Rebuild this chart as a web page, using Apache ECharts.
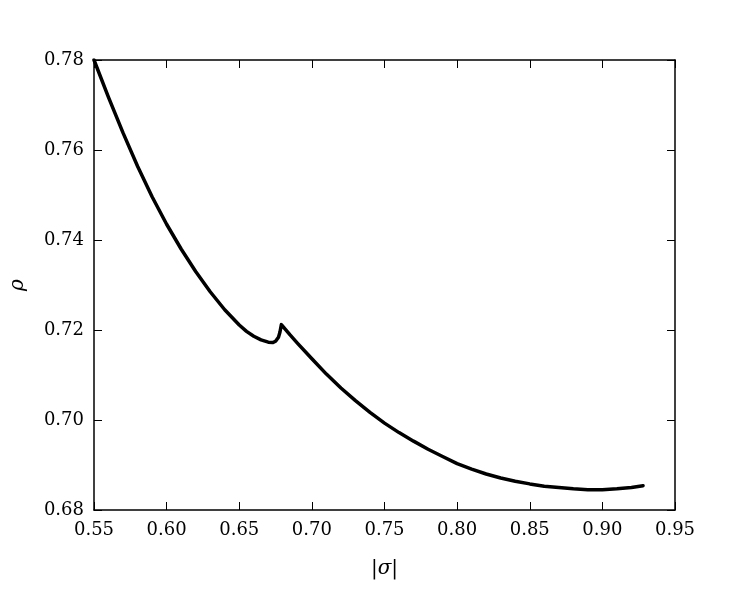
<!DOCTYPE html>
<html>
<head>
<meta charset="utf-8">
<script src="https://cdn.jsdelivr.net/npm/echarts@6/dist/echarts.min.js"></script>
<style>html,body{margin:0;padding:0;background:#fff}#c{width:750px;height:600px}</style>
</head>
<body>
<div id="c"></div>
<script>
const sigmaValues = [0.550,0.560,0.570,0.580,0.590,0.600,0.610,0.620,0.630,0.640,0.650,0.655,0.660,0.665,0.670,0.673,0.675,0.677,0.678,0.679,
  0.685,0.690,0.700,0.710,0.720,0.730,0.740,0.750,0.760,0.770,0.780,0.790,0.800,0.810,0.820,0.830,0.840,0.850,0.860,0.870,0.880,0.890,0.900,0.910,0.920,0.928];
const rhoValues = [0.7800,0.7717,0.7638,0.7564,0.7496,0.7435,0.7380,0.7330,0.7285,0.7245,0.7211,0.7197,0.7186,0.7178,0.7173,0.7172,0.7175,0.7184,0.7195,0.7212,
  0.7189,0.7171,0.7136,0.7102,0.7071,0.7043,0.7017,0.6993,0.6972,0.6953,0.6935,0.6919,0.6903,0.6891,0.6880,0.6871,0.6864,0.6858,0.6853,0.6850,0.6847,0.6845,0.6845,0.6847,0.6850,0.6854];
const xRange = [0.55, 0.95, 0.05];
const yRange = [0.68, 0.78, 0.02];
const xName = '|σ|';
const yName = 'ρ';

const font = 'DejaVu Serif';
const lineAxis = {show: true, lineStyle: {color: '#000', width: 1.5}};
const tick = {show: true, inside: true, length: 8, lineStyle: {color: '#000', width: 1}};
const chart = echarts.init(document.getElementById('c'), null, {renderer: 'canvas'});
chart.setOption({
  animation: false,
  backgroundColor: '#fff',
  grid: {left: 94, right: 75, top: 60, bottom: 90, containLabel: false},
  xAxis: [
    {type: 'value', min: xRange[0], max: xRange[1], interval: xRange[2], position: 'bottom',
     name: xName, nameLocation: 'middle', nameGap: 49,
     nameTextStyle: {fontFamily: font, fontSize: 20, fontStyle: 'italic', color: '#000'},
     axisLine: lineAxis, axisTick: tick, splitLine: {show: false},
     axisLabel: {fontFamily: font, fontSize: 18, color: '#000', margin: 11, formatter: v => v.toFixed(2)}},
    {type: 'value', min: xRange[0], max: xRange[1], interval: xRange[2], position: 'top',
     axisLine: lineAxis, axisTick: tick, splitLine: {show: false}, axisLabel: {show: false}}
  ],
  yAxis: [
    {type: 'value', min: yRange[0], max: yRange[1], interval: yRange[2], position: 'left',
     name: yName, nameLocation: 'middle', nameGap: 66, nameRotate: 90,
     nameTextStyle: {fontFamily: font, fontSize: 20, fontStyle: 'italic', color: '#000'},
     axisLine: lineAxis, axisTick: tick, splitLine: {show: false},
     axisLabel: {fontFamily: font, fontSize: 18, color: '#000', margin: 10, formatter: v => v.toFixed(2)}},
    {type: 'value', min: yRange[0], max: yRange[1], interval: yRange[2], position: 'right',
     axisLine: lineAxis, axisTick: tick, splitLine: {show: false}, axisLabel: {show: false}}
  ],
  series: [{
    type: 'line',
    data: sigmaValues.map((s, i) => [s, rhoValues[i]]),
    showSymbol: false,
    smooth: false,
    lineStyle: {color: '#000', width: 3.5, join: 'round', cap: 'round'}
  }]
});
</script>
</body>
</html>
